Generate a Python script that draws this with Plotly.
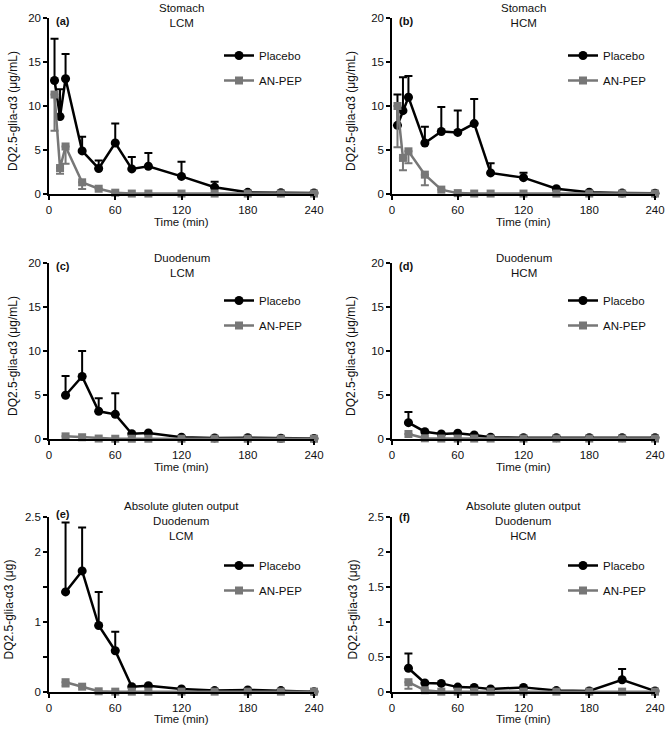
import plotly.graph_objects as go

# ---------------- data ----------------
t_stomach = [5, 10, 15, 30, 45, 60, 75, 90, 120, 150, 180, 210, 240]
t_duodenum = [15, 30, 45, 60, 75, 90, 120, 150, 180, 210, 240]

a_placebo = [12.9, 8.8, 13.1, 4.9, 2.9, 5.8, 2.85, 3.15, 2.0, 0.76, 0.19, 0.15, 0.12]
a_placebo_err = [4.75, 3.1, 2.8, 1.6, 0.9, 2.2, 1.35, 1.5, 1.67, 0.64, 0, 0, 0]
a_anpep = [11.3, 2.95, 5.4, 1.33, 0.6, 0.15, 0.05, 0.05, 0.05, 0.05, 0.05, 0.05, 0.05]
a_anpep_err = [4.1, 0.65, 1.95, 0.76, 0, 0, 0, 0, 0, 0, 0, 0, 0]

b_placebo = [7.8, 9.47, 11.0, 5.8, 7.1, 7.0, 8.0, 2.4, 1.86, 0.6, 0.2, 0.1, 0.08]
b_placebo_err = [3.5, 3.8, 2.4, 1.85, 2.8, 2.5, 2.8, 1.1, 0.55, 0, 0, 0, 0]
b_anpep = [10.0, 4.1, 4.85, 2.2, 0.5, 0.1, 0.05, 0.05, 0.05, 0.05, 0.05, 0.05, 0.05]
b_anpep_err = [4.7, 1.4, 1.35, 1.2, 0, 0, 0, 0, 0, 0, 0, 0, 0]

c_placebo = [4.97, 7.1, 3.15, 2.8, 0.6, 0.68, 0.2, 0.12, 0.15, 0.08, 0.07]
c_placebo_err = [2.2, 2.9, 1.48, 2.4, 0, 0, 0, 0, 0, 0, 0]
c_anpep = [0.3, 0.2, 0.05, 0.03, 0.03, 0.03, 0.03, 0.03, 0.03, 0.03, 0.03]
c_anpep_err = [0, 0, 0, 0, 0, 0, 0, 0, 0, 0, 0]

d_placebo = [1.86, 0.83, 0.57, 0.65, 0.45, 0.2, 0.15, 0.15, 0.15, 0.15, 0.15]
d_placebo_err = [1.21, 0, 0, 0, 0, 0, 0, 0, 0, 0, 0]
d_anpep = [0.57, 0.08, 0.05, 0.05, 0.05, 0.05, 0.05, 0.05, 0.05, 0.05, 0.05]
d_anpep_err = [0, 0, 0, 0, 0, 0, 0, 0, 0, 0, 0]

e_placebo = [1.43, 1.73, 0.95, 0.59, 0.076, 0.09, 0.043, 0.02, 0.03, 0.02, 0.005]
e_placebo_err = [0.99, 0.62, 0.48, 0.27, 0, 0, 0, 0, 0, 0, 0]
e_anpep = [0.14, 0.076, 0.01, 0.005, 0.005, 0.005, 0.005, 0.005, 0.005, 0.005, 0.005]
e_anpep_err = [0.06, 0, 0, 0, 0, 0, 0, 0, 0, 0, 0]

f_placebo = [0.34, 0.128, 0.123, 0.07, 0.066, 0.043, 0.066, 0.02, 0.015, 0.175, 0.015]
f_placebo_err = [0.21, 0, 0, 0, 0, 0, 0, 0, 0, 0.155, 0]
f_anpep = [0.14, 0.025, 0.005, 0.005, 0.005, 0.005, 0.005, 0.005, 0.005, 0.005, 0.005]
f_anpep_err = [0.095, 0, 0, 0, 0, 0, 0, 0, 0, 0, 0]

x_ticks = [0, 60, 120, 180, 240]
conc_ticks = [0, 5, 10, 15, 20]
abs_ticks = [0, 0.5, 1, 1.5, 2, 2.5]
abs_ticktext_e = ["0", "", "1", "", "2", "2.5"]
abs_ticktext_f = ["0", "0.5", "1", "1.5", "2", "2.5"]

series_names = ["Placebo", "AN-PEP"]
panel_labels = ["(a)", "(b)", "(c)", "(d)", "(e)", "(f)"]
panel_titles = ["Stomach<br>LCM", "Stomach<br>HCM", "Duodenum<br>LCM", "Duodenum<br>HCM",
                "Absolute gluten output<br>Duodenum<br>LCM", "Absolute gluten output<br>Duodenum<br>HCM"]
ylabel_conc = "DQ2.5-glia-α3 (μg/mL)"
ylabel_abs = "DQ2.5-glia-α3 (μg)"
xlabel = "Time (min)"

# ---------------- layout helpers ----------------
W, H = 667, 732
FONT = "Liberation Sans, Arial, Helvetica, sans-serif"
BLACK = "#000000"
GREY = "#777777"
TXT = "#111111"

def px_x(p):
    return p / W

def px_y(p):
    return 1 - p / H

col_px = [(49, 314), (392, 655)]
row_px = [(18, 194), (263, 439), (517, 692)]
ytitle_x = [[13, 351], [13, 351], [8, 352]]
xtitle_y = [222, 467, 719]
label_dy = [3, 3, 3, 3, -3, 0]

panels = [
    (t_stomach, a_placebo, a_placebo_err, a_anpep, a_anpep_err),
    (t_stomach, b_placebo, b_placebo_err, b_anpep, b_anpep_err),
    (t_duodenum, c_placebo, c_placebo_err, c_anpep, c_anpep_err),
    (t_duodenum, d_placebo, d_placebo_err, d_anpep, d_anpep_err),
    (t_duodenum, e_placebo, e_placebo_err, e_anpep, e_anpep_err),
    (t_duodenum, f_placebo, f_placebo_err, f_anpep, f_anpep_err),
]

fig = go.Figure()
layout = dict(
    width=W, height=H, margin=dict(l=0, r=0, t=0, b=0, autoexpand=False),
    plot_bgcolor="white", paper_bgcolor="white",
    font=dict(family=FONT, size=11, color=TXT),
    showlegend=True,
)
annotations = []

for i, (t, pl, ple, an, ane) in enumerate(panels):
    r, c = divmod(i, 2)
    k = "" if i == 0 else str(i + 1)
    xa, ya = "x" + k, "y" + k
    leg = "legend" + k
    x0, x1 = col_px[c]
    y0, y1 = row_px[r]

    fig.add_trace(go.Scatter(
        x=t, y=pl, name=series_names[0], xaxis=xa, yaxis=ya, legend=leg,
        legendgroup="p" + k, cliponaxis=False,
        mode="lines+markers",
        line=dict(color=BLACK, width=2.5),
        marker=dict(symbol="circle", size=9, color=BLACK),
        error_y=dict(type="data", symmetric=False, array=ple, arrayminus=[0] * len(ple),
                     color=BLACK, thickness=2, width=4),
    ))
    fig.add_trace(go.Scatter(
        x=t, y=an, name=series_names[1], xaxis=xa, yaxis=ya, legend=leg,
        legendgroup="a" + k, cliponaxis=False,
        mode="lines+markers",
        line=dict(color=GREY, width=2.5),
        marker=dict(symbol="square", size=8, color=GREY),
        error_y=dict(type="data", symmetric=False, array=[0] * len(ane), arrayminus=ane,
                     color=GREY, thickness=2, width=4),
    ))

    xaxis = dict(
        domain=[px_x(x0), px_x(x1)], anchor=ya, range=[0, 240],
        tickmode="array", tickvals=x_ticks, automargin=False,
        showline=True, linecolor=BLACK, linewidth=1.5,
        ticks="outside", ticklen=4, tickwidth=1.5, tickcolor=BLACK,
        showgrid=False, zeroline=False,
        tickfont=dict(size=11.5, family=FONT, color=TXT),
    )
    if r < 2:
        yrng, yt, ytt, ylab = [0, 20], conc_ticks, [str(v) for v in conc_ticks], ylabel_conc
    else:
        yrng, yt, ylab = [0, 2.5], abs_ticks, ylabel_abs
        ytt = abs_ticktext_e if c == 0 else abs_ticktext_f
    yaxis = dict(
        domain=[px_y(y1), px_y(y0)], anchor=xa, range=yrng,
        tickmode="array", tickvals=yt, ticktext=ytt, automargin=False,
        showline=True, linecolor=BLACK, linewidth=1.5,
        ticks="outside", ticklen=4, tickwidth=1.5, tickcolor=BLACK,
        showgrid=False, zeroline=False,
        tickfont=dict(size=11.5, family=FONT, color=TXT),
    )
    layout["xaxis" + k] = xaxis
    layout["yaxis" + k] = yaxis

    # axis titles
    annotations.append(dict(
        text=xlabel, xref="paper", yref="paper",
        x=px_x((x0 + x1) / 2), y=px_y(xtitle_y[r]), xanchor="center", yanchor="middle",
        showarrow=False, font=dict(size=11.5, family=FONT, color=TXT),
    ))
    annotations.append(dict(
        text=ylab, xref="paper", yref="paper", textangle=-90,
        x=px_x(ytitle_x[r][c]), y=px_y((y0 + y1) / 2 + 5), xanchor="center", yanchor="middle",
        showarrow=False, font=dict(size=12, family=FONT, color=TXT),
    ))

    # legend
    leg_x = [219, 563][c]
    leg_row = [55, 300, 565][r]
    layout[leg] = dict(
        x=px_x(leg_x), y=px_y(leg_row - 14), xanchor="left", yanchor="top",
        bgcolor="rgba(0,0,0,0)", borderwidth=0,
        font=dict(size=11.5, family=FONT, color=TXT),
        tracegroupgap=6, itemwidth=30,
    )

    # panel label
    annotations.append(dict(
        text="<b>" + panel_labels[i] + "</b>", xref="paper", yref="paper",
        x=px_x(x0 + 5), y=px_y(y0 + label_dy[i]), xanchor="left", yanchor="middle",
        showarrow=False, font=dict(size=11, family=FONT, color=TXT),
    ))
    # panel title
    title_top = [0, 250, 498][r]
    annotations.append(dict(
        text=panel_titles[i], xref="paper", yref="paper",
        x=px_x((x0 + x1) / 2), y=px_y(title_top), xanchor="center", yanchor="top",
        showarrow=False, font=dict(size=11.5, family=FONT, color=TXT),
    ))

layout["annotations"] = annotations
fig.update_layout(**layout)
fig.write_html(
    "out.html",
    config={"displayModeBar": False},
    post_script="document.body.style.margin='0';document.body.style.overflow='hidden';",
)
